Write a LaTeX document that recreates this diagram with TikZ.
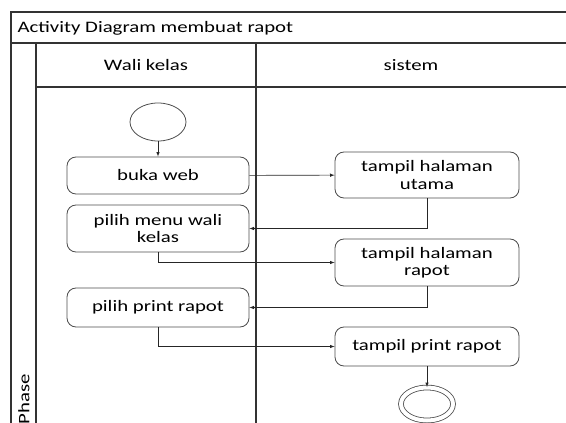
\documentclass[tikz,border=0pt]{standalone}
\usepackage{fontspec}
\setmainfont[FakeStretch=1.3]{Carlito}
\usetikzlibrary{shapes.geometric}

\begin{document}
\begin{tikzpicture}[x=1pt,y=-1pt,font=\fontsize{16}{17.5}\selectfont,
    act/.style={draw=black!70,line width=0.8pt,rounded corners=9pt,minimum height=37pt,align=center,inner sep=2pt},
    lane/.style={draw=black!80,line width=1.2pt},
    flow/.style={draw=black!85,line width=0.6pt,->,>=latex}]
    \useasboundingbox (0,0) rectangle (566,423);

    % swimlane frame
    \draw[lane] (566,12) -- (11,12) -- (11,423);
    \draw[lane] (11,43) -- (566,43);
    \draw[lane] (36,87) -- (566,87);
    \draw[lane] (36,43) -- (36,423);
    \draw[lane] (256,43) -- (256,423);

    \node[anchor=west] (title) at (14,28){Activity Diagram membuat rapot};
    \node (wali) at (146,65){Wali kelas};
    \node (sistem) at (411,65){sistem};
    \node[rotate=90,inner sep=1pt] (phase) at (24,399){Phase};

    % activities
    \node[draw=black!70,line width=0.8pt,ellipse,minimum width=56pt,minimum height=38pt] (start) at (158,122){};
    \node[act,minimum width=182pt] (bukaweb) at (158,175.5){buka web};
    \node[act,minimum width=182pt,minimum height=47pt] (menuwali) at (158,228.5){pilih menu wali\\kelas};
    \node[act,minimum width=182pt,minimum height=39pt] (printrapot) at (158,307.5){pilih print rapot};
    \node[act,minimum width=184pt,minimum height=46pt] (halutama) at (427,175){tampil halaman\\utama};
    \node[act,minimum width=184pt,minimum height=47pt] (halrapot) at (427,262.5){tampil halaman\\rapot};
    \node[act,minimum width=184pt,minimum height=39pt] (tampilprint) at (427,346.5){tampil print rapot};
    \node[draw=black!70,line width=0.8pt,ellipse,double,double distance=4pt,minimum width=52pt,minimum height=33pt] (finish) at (427,404){};

    \draw[flow] (start) -- (bukaweb);
    \draw[flow] (bukaweb) -- (halutama);
    \draw[flow] (halutama.south) |- (menuwali.east);
    \draw[flow] (menuwali.south) |- (halrapot.west);
    \draw[flow] (halrapot.south) |- (printrapot.east);
    \draw[flow] (printrapot.south) |- (tampilprint.west);
    \draw[flow] (tampilprint) -- (finish);
\end{tikzpicture}
\end{document}
